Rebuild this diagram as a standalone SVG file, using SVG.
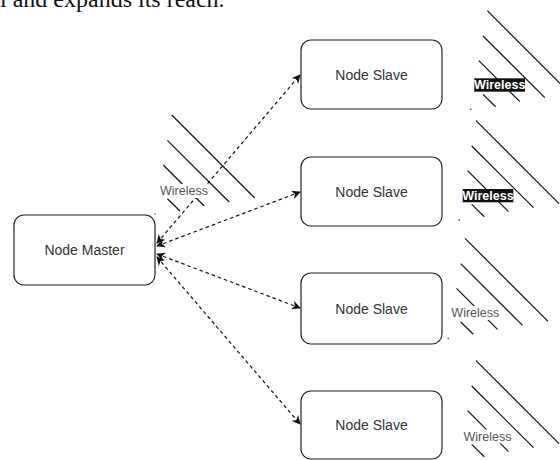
<svg xmlns="http://www.w3.org/2000/svg" width="560" height="460" viewBox="0 0 560 460">
<style>
.node rect{fill:#fff;stroke:#222;stroke-width:1.2}
.node text{font-family:"Liberation Sans",Arial,sans-serif;font-size:14px;fill:#333;text-anchor:middle;dominant-baseline:central}
.edge{fill:none;stroke:#111;stroke-width:1.2;stroke-dasharray:3.5 3}
.wl{stroke:#111;stroke-width:1.2;fill:none}
.wt{font-family:"Liberation Sans",Arial,sans-serif;font-size:12.5px;text-anchor:middle;dominant-baseline:central}
.dot{fill:#666}
</style>
<defs>
<marker id="ah" viewBox="0 0 10 10" refX="9" refY="5" markerWidth="9" markerHeight="9" orient="auto-start-reverse" markerUnits="userSpaceOnUse">
<path d="M0,0 L10,5 L0,10 L3,5 Z" fill="#111"/>
</marker>
<g id="waves">
<line class="wl" x1="0" y1="0" x2="83" y2="83"/>
<line class="wl" x1="-4.3" y1="25.3" x2="57.5" y2="87"/>
<line class="wl" x1="-8.5" y1="50" x2="32.5" y2="91"/>
<line class="wl" x1="-4.3" y1="83.7" x2="8.3" y2="96"/>
</g>
</defs>
<rect width="560" height="460" fill="#fff"/>
<text x="0" y="7" font-family="Liberation Serif,'Times New Roman',serif" font-size="24" fill="#111">l and expands its reach.</text>

<g id="connectors">
<line class="edge" x1="157" y1="243" x2="300" y2="75" marker-start="url(#ah)" marker-end="url(#ah)"/>
<line class="edge" x1="157" y1="246" x2="300" y2="192" marker-start="url(#ah)" marker-end="url(#ah)"/>
<line class="edge" x1="157" y1="254" x2="300" y2="308" marker-start="url(#ah)" marker-end="url(#ah)"/>
<line class="edge" x1="157" y1="257" x2="300" y2="424" marker-start="url(#ah)" marker-end="url(#ah)"/>
</g>

<g id="wireless-master">
<use href="#waves" transform="translate(171.7,115)"/>
<rect x="160" y="184" width="48" height="14" fill="#fff"/>
<text class="wt" x="184" y="191" fill="#555">Wireless</text>
<circle class="dot" cx="155" cy="214" r="0.8"/>
</g>

<g id="master">
<g class="node"><rect x="14" y="215" width="141" height="70" rx="10"/><text x="84.5" y="250">Node Master</text></g>
</g>

<g id="slave1" class="node"><rect x="301" y="40" width="141" height="69" rx="10"/><text x="371.5" y="75">Node Slave</text></g>
<g id="slave2" class="node"><rect x="301" y="157" width="141" height="69" rx="10"/><text x="371.5" y="191.5">Node Slave</text></g>
<g id="slave3" class="node"><rect x="301" y="273" width="141" height="71" rx="10"/><text x="371.5" y="308.5">Node Slave</text></g>
<g id="slave4" class="node"><rect x="301" y="391" width="141" height="68" rx="10"/><text x="371.5" y="425">Node Slave</text></g>

<g id="wireless1">
<use href="#waves" transform="translate(487.3,10.7)"/>
<rect x="474.3" y="78.3" width="50.7" height="13.4" fill="#111"/>
<text class="wt" x="499.7" y="85" fill="#fff" font-weight="bold" font-size="12">Wireless</text>
<circle class="dot" cx="470.7" cy="109.3" r="0.9"/>
</g>
<g id="wireless2">
<use href="#waves" transform="translate(476,120.7)"/>
<rect x="462.7" y="189" width="50.6" height="13.3" fill="#111"/>
<text class="wt" x="488" y="195.7" fill="#fff" font-weight="bold" font-size="12">Wireless</text>
<circle class="dot" cx="459.3" cy="220" r="0.9"/>
</g>
<g id="wireless3">
<use href="#waves" transform="translate(465,238.3)"/>
<rect x="451" y="306" width="49" height="14" fill="#fff"/>
<text class="wt" x="475.3" y="313.3" fill="#555">Wireless</text>
<circle class="dot" cx="448.3" cy="338.3" r="0.9"/>
</g>
<g id="wireless4">
<use href="#waves" transform="translate(476,360.7)"/>
<rect x="463.3" y="429.5" width="48.4" height="14" fill="#fff"/>
<text class="wt" x="487.5" y="436.7" fill="#555">Wireless</text>
</g>
</svg>
